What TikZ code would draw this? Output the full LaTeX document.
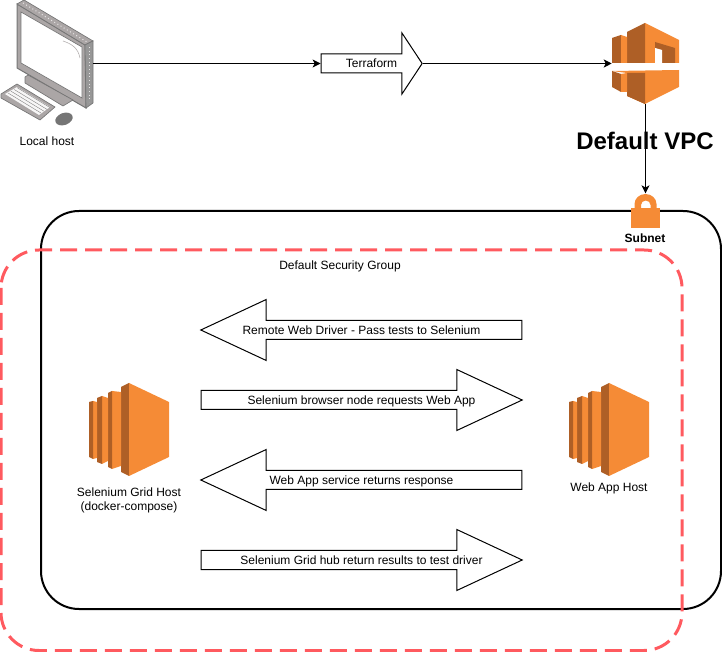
\documentclass[tikz,border=0pt]{standalone}
\usepackage{fontspec}
\setmainfont{Liberation Sans}
\definecolor{awsorange}{HTML}{F58B36}
\definecolor{awsdark}{HTML}{AE5F26}
\definecolor{sgred}{HTML}{FF5A5F}
\definecolor{pcgray}{HTML}{ABA6A6}
\definecolor{pcdark}{HTML}{757575}
\usetikzlibrary{shapes,arrows,arrows.meta,positioning}

\begin{document}
\begin{tikzpicture}[
        x=0.75pt, y=-0.75pt,
        label/.style={align=center, font=\fontsize{9}{10.5}\selectfont, inner sep=0pt},
        iconbox/.style={rectangle, inner sep=0pt},
        bigarrow/.style={single arrow, draw=black, fill=white, line width=0.75pt, inner sep=0pt,
            text height=9.85pt, text depth=3.65pt,
            minimum width=45pt, minimum height=240.75pt, single arrow head extend=15.75pt,
            single arrow tip angle=50, single arrow head indent=0pt,
            font=\fontsize{9}{10.5}\selectfont},
        link/.style={-{Stealth[length=6pt,width=6pt,inset=1.5pt]}, line width=0.75pt},
        hosticon/.pic={
            \fill[awsdark] (121,387) -- (129,383) -- (129,476) -- (121,472) -- cycle;
            \fill[awsorange] (129,383) -- (169,402) -- (169,457) -- (129,476) -- cycle;
            \fill[awsorange] (112,391) -- (121,392) -- (121,466) -- (112,469) -- cycle;
            \fill[awsdark] (108,393) -- (112,391) -- (112,469) -- (108,467) -- cycle;
            \fill[awsorange] (102,396) -- (108,398) -- (108,461) -- (102,464) -- cycle;
            \fill[awsdark] (97,398) -- (102,396) -- (102,464) -- (97,462) -- cycle;
            \fill[awsorange] (93,401) -- (97,402) -- (97,458) -- (93,459) -- cycle;
            \fill[awsdark] (89,402) -- (93,401) -- (93,459) -- (89,457) -- cycle;
        }
    ]
    \useasboundingbox (0,0) rectangle (722,652);

    % local host
    \node[iconbox, minimum width=69pt, minimum height=81pt] (localhost) at (47,54) {};
    \fill[pcgray, draw=pcdark, line width=0.75pt] (17,4) -- (85,45) -- (86,108) -- (17,68) -- cycle;
    \fill[pcgray, draw=pcdark, line width=0.5pt] (17,4) -- (24,0) -- (93,41) -- (85,45) -- cycle;
    \fill[pcdark!75!white, draw=pcdark, line width=0.5pt] (85,45) -- (93,41) -- (93,103) -- (86,108) -- cycle;
    \draw[white!70!pcgray, line width=0.75pt, dotted] (89,47) -- (89,102);
    \draw[white!70!pcgray, line width=0.75pt, dotted] (23,3) -- (87,42);
    \fill[white, draw=pcdark, line width=0.5pt] (21,12) -- (82,47) -- (82,98) -- (21,63) -- cycle;
    \draw[pcgray, line width=0.4pt] (63,41) .. controls (72,44) and (78,48) .. (80,58);
    \fill[pcgray, draw=pcdark, line width=0.5pt] (25,77) -- (28,75) -- (73,100) -- (63,106) -- (25,83) -- cycle;
    \fill[pcgray, draw=pcdark, line width=0.5pt] (1,94) -- (17,84) -- (55,107) -- (40,120) -- (1,98) -- cycle;
    \fill[white!90!pcgray] (5,94) -- (17,87) -- (50,107) -- (39,115) -- cycle;
    \foreach \i in {0,1,2,3} {
        \draw[pcdark, line width=0.25pt] (8+\i*3,93-\i*1.8) -- (41+\i*3,113-\i*1.8);
    }
    \fill[pcdark] (64,119) ellipse [x radius=9, y radius=6, rotate=20];
    \node[label] (localhostlabel) at (47,141) {Local host};

    \node[bigarrow, minimum height=75.75pt, single arrow tip angle=113, single arrow head extend=15.75pt] (terraform) at (368.5,63.5) {\hspace*{4.5pt}Terraform};

    % vpc
    \node[iconbox, minimum width=50.25pt, minimum height=60.75pt] (vpc) at (645.5,63.5) {};
    \fill[awsorange] (645,23) -- (679,40) -- (679,63) -- (645,63) -- cycle;
    \fill[awsdark] (627,32) -- (645,23) -- (645,63) -- (627,63) -- cycle;
    \fill[awsdark] (612,38) -- (621,35) -- (621,63) -- (612,63) -- cycle;
    \fill[awsorange] (621,35) -- (627,37) -- (627,63) -- (621,63) -- cycle;
    \fill[awsdark] (655,42) -- (675,48) -- (675,63) -- (662,63) -- (662,50) -- (655,48) -- cycle;
    \fill[white] (655,48) -- (662,50) -- (662,63) -- (655,63) -- cycle;
    \fill[awsorange] (612,71) -- (679,70) -- (679,87) -- (645,104) -- (627,96) -- (627,73) -- cycle;
    \fill[awsdark] (627,73) -- (645,73) -- (645,104) -- (627,96) -- cycle;
    \fill[awsdark] (612,71) -- (621,74) -- (621,92) -- (612,87) -- cycle;
    \fill[awsorange] (621,74) -- (627,73) -- (627,92) -- (621,92) -- cycle;
    \node[label, font=\bfseries\fontsize{18}{20}\selectfont] (vpclabel) at (645,141) {Default VPC};

    % subnet
    \draw[black, line width=1.5pt, rounded corners=28.5pt] (41,211) rectangle (721,609);
    \node[iconbox, minimum width=22.5pt, minimum height=26pt] (lock) at (645.5,211) {};
    \fill[awsorange] (631,208) rectangle (660,228);
    \fill[awsorange, even odd rule] (634.5,209) -- (634.5,204) arc[start angle=180, end angle=360, x radius=11, y radius=10] -- (656.5,209) -- cycle
        (641,209) -- (641,205) arc[start angle=180, end angle=360, x radius=4.75, y radius=4.5] -- (650.5,209) -- cycle;
    \node[label, font=\bfseries\fontsize{9}{10.5}\selectfont] (subnetlabel) at (645,238) {Subnet};

    % security group
    \draw[sgred, line width=2.25pt, dash pattern=on 12.75pt off 6pt, rounded corners=28.5pt] (1,250) rectangle (682,650.5);
    \node[label] (sglabel) at (340,266) {Default Security Group};

    % hosts
    \pic {hosticon};
    \pic at (480,0) {hosticon};
    \node[iconbox, minimum width=60pt, minimum height=70pt] (gridhost) at (129,430) {};
    \node[iconbox, minimum width=60pt, minimum height=70pt] (webhost) at (609,430) {};
    \node[label] (gridlabel) at (129,500) {Selenium Grid Host\\(docker-compose)};
    \node[label] (weblabel) at (609,488) {Web App Host};

    \node[bigarrow, shape border rotate=180] (driver) at (371.5,330) {Remote Web Driver - Pass tests to Selenium\hspace*{15pt}};
    \node[bigarrow] (browser) at (351.5,400) {\hspace*{15pt}Selenium browser node requests Web App};
    \node[bigarrow, shape border rotate=180] (response) at (371.5,480) {Web App service returns response\hspace*{15pt}};
    \node[bigarrow] (results) at (351.5,560) {\hspace*{15pt}Selenium Grid hub return results to test driver};

    \draw[link] (localhost.east |- terraform.tail) -- (terraform.tail);
    \draw[link] (terraform.tip) -- (vpc.west);
    \draw[link] (vpc.south) -- (lock.north);
\end{tikzpicture}
\end{document}
